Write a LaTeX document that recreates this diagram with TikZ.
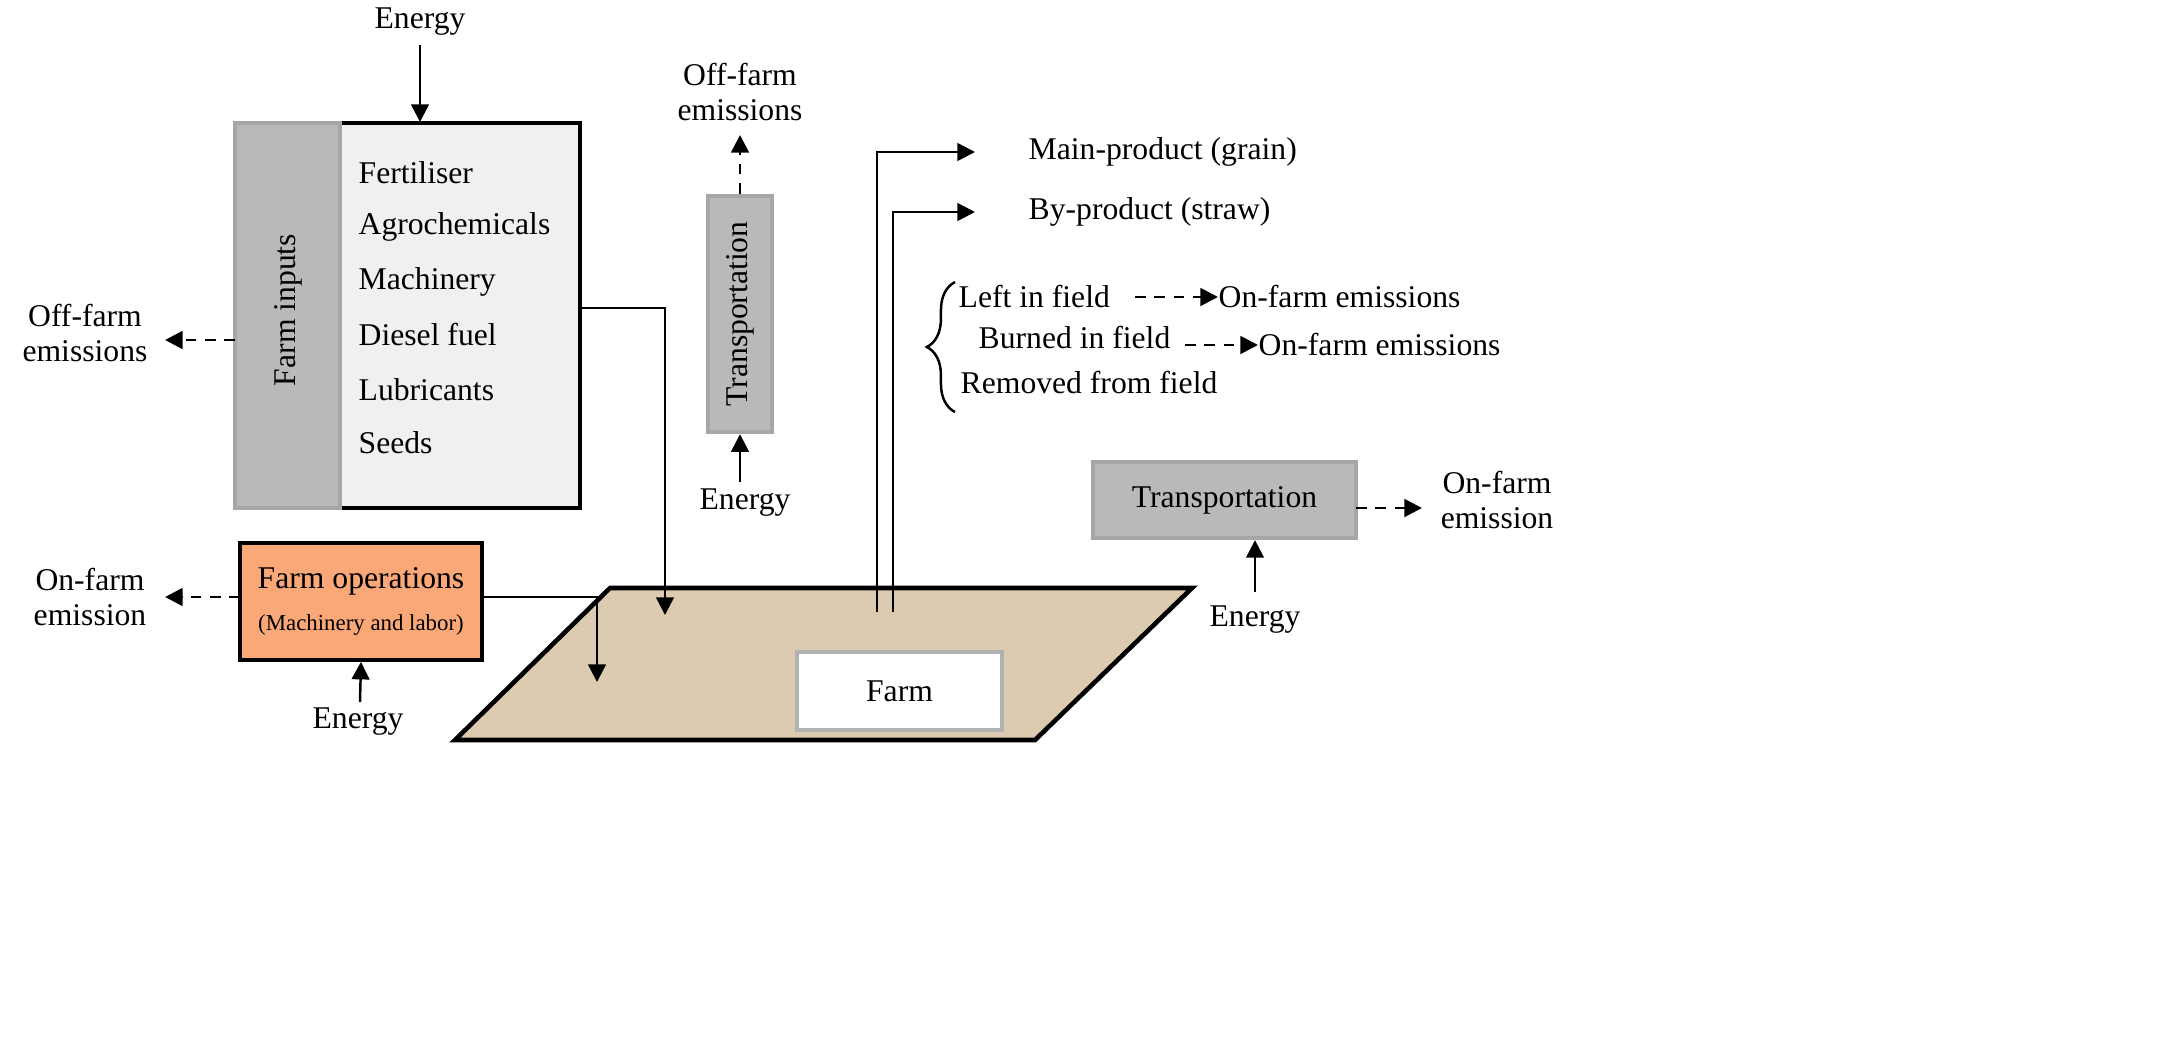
\documentclass[tikz,border=0pt]{standalone}
\usepackage{fontspec}
\setmainfont{Liberation Serif}
\usetikzlibrary{arrows.meta,decorations.pathreplacing}
\begin{document}
\begin{tikzpicture}[x=0.01cm,y=-0.01cm,font=\fontsize{9}{10}\selectfont,
 sol/.style={-{Triangle[length=5pt,width=5pt]},line width=0.7pt},
 dsh/.style={-{Triangle[length=5pt,width=5pt]},line width=0.8pt,dash pattern=on 3pt off 2.5pt},
 txt/.style={inner sep=0pt,align=center},
 gbox/.style={draw=gray!70,fill=gray!55,line width=1.2pt}]
\useasboundingbox (0,0) rectangle (2170,1042);
% farm inputs
\path[fill=gray!12,draw=black,line width=1.3pt] (235,123) rectangle (580,508);
\path[gbox] (235,123) rectangle (340,508);
\node[txt,rotate=90] (fin) at (288,310) {Farm inputs};
\foreach \t/\y [count=\i] in {Fertiliser/173,Agrochemicals/227,Machinery/282,Diesel fuel/335,Lubricants/390,Seeds/443}
  \node[txt,anchor=west] (l\i) at (358,\y) {\t};
\node[txt] (e1) at (420,22) {Energy};
\coordinate (fitop) at (420,122);
\draw[sol] (420,45) -- (fitop);
\node[txt] (off1) at (85,333) {Off-farm\\emissions};
\coordinate (fil) at (235,340);
\draw[dsh] (fil) -- (165,340);
% transportation vertical
\node[gbox,rotate=90,minimum width=2.36cm,minimum height=0.64cm,inner sep=0pt] (tv) at (740,314) {Transportation};
\node[txt] (off2) at (740,92) {Off-farm\\emissions};
\draw[dsh] (tv.east) -- (740,135);
\node[txt] (e2) at (745,503) {Energy};
\draw[sol] (740,482) -- (tv.west);
% parallelogram
\path[draw=black,line width=1.3pt,fill={rgb,255:red,220;green,203;blue,176}] (455,740) -- (610,588) -- (1192,588) -- (1035,740) -- cycle;
\node[draw=gray!60,fill=white,line width=1.2pt,minimum width=2.05cm,minimum height=0.78cm,inner sep=0pt] (farm) at (899.5,691) {Farm};
\coordinate (p1) at (665,615);
\draw[sol] (580,308) -- (665,308) -- (p1);
% farm operations
\node[draw=black,line width=1pt,fill={rgb,255:red,250;green,168;blue,120},minimum width=2.42cm,minimum height=1.17cm,inner sep=0pt,align=center] (fo) at (361,601.5) {Farm operations\\[2pt]{\fontsize{6.5}{7}\selectfont (Machinery and labor)}};
\node[txt] (e3) at (358,722) {Energy};
\draw[sol] (360,702) -- (fo.south);
\node[txt] (on1) at (90,597) {On-farm\\emission};
\draw[dsh] (240,597) -- (165,597);
\coordinate (p2) at (597,682);
\draw[sol] (482,597) -- (597,597) -- (p2);
% products
\node[txt,anchor=west] (mp) at (1028,152) {Main-product (grain)};
\node[txt,anchor=west] (bp) at (1028,212) {By-product (straw)};
\draw[sol] (877,612) -- (877,152) -- (975,152);
\draw[sol] (893,612) -- (893,212) -- (975,212);
\draw[line width=0.7pt,decorate,decoration={brace,amplitude=8pt}] (955,412) -- (955,282);
\node[txt,anchor=west] (lf) at (958,297) {Left in field};
\node[txt,anchor=west] (bf) at (978,338) {Burned in field};
\node[txt,anchor=west] (rf) at (960,383) {Removed from field};
\node[txt,anchor=west] (o3) at (1218,297) {On-farm emissions};
\node[txt,anchor=west] (o4) at (1258,345) {On-farm emissions};
\draw[dsh] (1135,297) -- (o3.west);
\draw[dsh] (1185,345) -- (o4.west);
% transportation horizontal
\node[gbox,minimum width=2.63cm,minimum height=0.76cm,inner sep=0pt] (th) at (1224.5,500) {Transportation};
\node[txt] (on2) at (1497,500) {On-farm\\emission};
\draw[dsh] (1356,508) -- (1422,508);
\node[txt] (e4) at (1255,620) {Energy};
\draw[sol] (1255,592) -- (th.south -| e4);
\end{tikzpicture}
\end{document}
